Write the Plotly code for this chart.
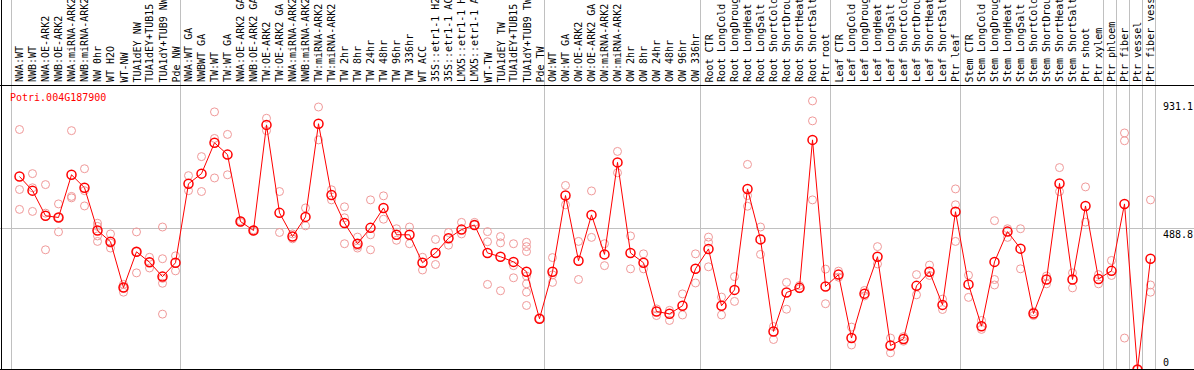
import plotly.graph_objects as go

# ---------------- data ----------------
gene = "Potri.004G187900"

labels = [
    "NWA:WT", "NWB:WT", "NWA:OE-ARK2", "NWB:OE-ARK2", "NWA:miRNA-ARK2", "NWB:miRNA-ARK2",
    "NW 0hr", "WT H2O", "WT-NW", "TUA1dEY NW", "TUA1dEY+TUB15", "TUA1dY+TUB9 NW", "Pde NW",
    "NWA:WT GA", "NWBWT GA", "TW:WT", "TW:WT GA", "NWA:OE-ARK2 GA", "NWB:OE-ARK2 GA",
    "TW:OE-ARK2", "TW:OE-ARK2 GA", "NWA:miRNA-ARK2", "NWB:miRNA-ARK2", "TW:miRNA-ARK2",
    "TW:miRNA-ARK2", "TW 2hr", "TW 8hr", "TW 24hr", "TW 48hr", "TW 96hr", "TW 336hr",
    "WT ACC", "35S::etr1-1 H2O", "35S::etr1-1 ACC", "LMX5::etr1-1 H2O", "LMX5::etr1-1 ACC",
    "WT-TW", "TUA1dEY TW", "TUA1dEY+TUB15", "TUA1dY+TUB9 TW", "Pde TW",
    "OW:WT", "OW:WT GA", "OW:OE-ARK2", "OW:OE-ARK2 GA", "OW:miRNA-ARK2", "OW:miRNA-ARK2",
    "OW 2hr", "OW 8hr", "OW 24hr", "OW 48hr", "OW 96hr", "OW 336hr",
    "Root CTR", "Root LongCold", "Root LongDrought", "Root LongHeat", "Root LongSalt",
    "Root ShortCold", "Root ShortDrought", "Root ShortHeat", "Root ShortSalt", "Ptr root",
    "Leaf CTR", "Leaf LongCold", "Leaf LongDrought", "Leaf LongHeat", "Leaf LongSalt",
    "Leaf ShortCold", "Leaf ShortDrought", "Leaf ShortHeat", "Leaf ShortSalt", "Ptr leaf",
    "Stem CTR", "Stem LongCold", "Stem LongDrought", "Stem LongHeat", "Stem LongSalt",
    "Stem ShortCold", "Stem ShortDrought", "Stem ShortHeat", "Stem ShortSalt", "Ptr shoot",
    "Ptr xylem", "Ptr phloem", "Ptr fiber", "Ptr vessel", "Ptr fiber vessel",
]

group_sizes = [13, 28, 12, 10, 10, 11, 1, 1, 1, 1]

means = [
    669, 620, 533, 527, 675, 630, 482, 443, 284, 408, 372, 322, 370,
    644, 679, 786, 745, 513, 482, 848, 543, 461, 529, 852, 605, 508, 436, 491, 560,
    467, 467, 370, 404, 455, 485, 501, 404, 391, 373, 339, 176,
    339, 603, 377, 536, 399, 718, 404, 370, 201, 193, 221, 349,
    418, 221, 276, 626, 451, 132, 267, 283, 796, 288,
    329, 109, 263, 391, 83, 106, 290, 339, 224, 547,
    295, 150, 373, 478, 419, 194, 312, 645, 312, 567, 314,
    342, 574, 0, 384,
]

replicates = [
    [832, 624, 555], [679, 630, 548], [641, 542, 415], [574, 527, 477], [828, 600, 595],
    [696, 620, 567], [507, 496, 463, 444], [470, 438, 421], [295, 282, 268], [477, 408, 335],
    [389, 372, 352], [494, 384, 316, 299, 192], [394, 342],
    [672, 620], [738, 617], [893, 801, 664], [815, 675], [516, 510], [484, 480], [871, 828],
    [617, 475], [470, 453], [560, 498], [910, 796], [623, 588], [564, 526, 436], [459, 428, 421],
    [588, 467, 415], [602, 521], [488, 448], [494, 436], [389, 345], [451, 364], [475, 431],
    [510, 470], [510, 501], [478, 443, 295], [461, 439, 273], [436, 360, 318],
    [441, 426, 409, 324, 297, 268, 222], [176],
    [388, 328, 302], [638, 571], [444, 312], [619, 458], [436, 360], [756, 682], [463, 349],
    [401, 349], [210, 187], [205, 170], [262, 189], [401, 300],
    [459, 441, 356], [251, 189], [322, 236], [711, 603, 566], [494, 399], [149, 104],
    [302, 209], [291, 280], [931.1, 862, 588], [348, 228],
    [341, 320], [147, 85], [274, 255], [426, 366], [109, 58], [114, 98], [329, 259],
    [362, 326], [244, 208], [626, 571, 444],
    [327, 250], [170, 139], [516, 312, 293], [488, 458], [488, 349], [200, 187], [324, 297],
    [700, 617], [335, 283], [633, 511], [329, 297],
    [378, 326], [820, 793, 109], [0], [588, 293, 268],
]

y_ticks = [0, 488.8, 931.1]

# ---------------- layout geometry ----------------
W, H = 1194, 370
TOP = 85            # header height in px
COL0, STEP = 19.5, 13.0
BOFF = 0.6154       # group divider offset (in column units) left of the first column
SCALE = 141 / 488.8
Y0 = 369.5

x_range = [-COL0 / STEP, (W - COL0) / STEP]
y_range = [(Y0 - H) / SCALE, (Y0 - TOP) / SCALE]


def py2paper(py):
    return (H - py) / (H - TOP)


FONT = "DejaVu Sans Mono"
GRID = "#c0c0c0"

n = len(labels)
rep_x = [i for i, r in enumerate(replicates) for _ in r]
rep_y = [v for r in replicates for v in r]

fig = go.Figure()
fig.add_trace(go.Scatter(
    x=rep_x, y=rep_y, mode="markers",
    marker=dict(symbol="circle-open", size=8, color="#f09999", line=dict(width=1)),
    hoverinfo="skip", showlegend=False,
))
fig.add_trace(go.Scatter(
    x=list(range(n)), y=means, mode="lines+markers",
    line=dict(color="#ff0000", width=1),
    marker=dict(symbol="circle-open", size=9, color="#ff0000", line=dict(width=1.5)),
    showlegend=False,
))

shapes = []
# group dividers
k = 0
bounds = [0]
for g in group_sizes:
    k += g
    bounds.append(k)
for b in bounds:
    shapes.append(dict(type="line", xref="x", yref="paper", x0=b - BOFF, x1=b - BOFF,
                       y0=py2paper(369.5), y1=py2paper(0), line=dict(color=GRID, width=1),
                       layer="below"))
# horizontal mid grid line
shapes.append(dict(type="line", xref="paper", yref="y", x0=0, x1=1, y0=y_ticks[1], y1=y_ticks[1],
                   line=dict(color=GRID, width=1), layer="below"))
# black frame lines
shapes.append(dict(type="line", xref="paper", yref="paper", x0=0, x1=1,
                   y0=py2paper(369.5), y1=py2paper(369.5), line=dict(color="black", width=1)))
shapes.append(dict(type="line", xref="paper", yref="paper", x0=0, x1=1,
                   y0=py2paper(85.5), y1=py2paper(85.5), line=dict(color="black", width=1)))
shapes.append(dict(type="line", xref="paper", yref="paper", x0=1.5 / W, x1=1.5 / W,
                   y0=py2paper(370), y1=py2paper(0), line=dict(color="black", width=1)))

annotations = []
for i, lab in enumerate(labels):
    annotations.append(dict(
        x=i, xref="x", y=py2paper(84.5), yref="paper", text=lab, textangle=-90,
        xanchor="center", yanchor="bottom", showarrow=False,
        font=dict(family=FONT, size=10, color="black"),
    ))
annotations.append(dict(
    x=8 / W, xref="paper", y=py2paper(97.5), yref="paper", text=gene,
    xanchor="left", yanchor="middle", showarrow=False,
    font=dict(family=FONT, size=10, color="#ff0000"),
))
for v in y_ticks:
    annotations.append(dict(
        x=1161 / W, xref="paper", y=v, yref="y", text=f"{v:g}",
        xanchor="left", yanchor="bottom" if v == 0 else "top",
        yshift=0 if v == 0 else 2, showarrow=False,
        font=dict(family=FONT, size=10, color="black"),
    ))

fig.update_layout(
    width=W, height=H, autosize=False,
    margin=dict(l=0, r=0, t=TOP, b=0, pad=0),
    paper_bgcolor="white", plot_bgcolor="white",
    xaxis=dict(range=x_range, visible=False, fixedrange=True),
    yaxis=dict(range=y_range, visible=False, fixedrange=True),
    shapes=shapes, annotations=annotations,
)

fig.write_html(
    "out.html",
    config={"displayModeBar": False},
    post_script="document.body.style.margin='0';document.body.style.overflow='hidden';",
)
